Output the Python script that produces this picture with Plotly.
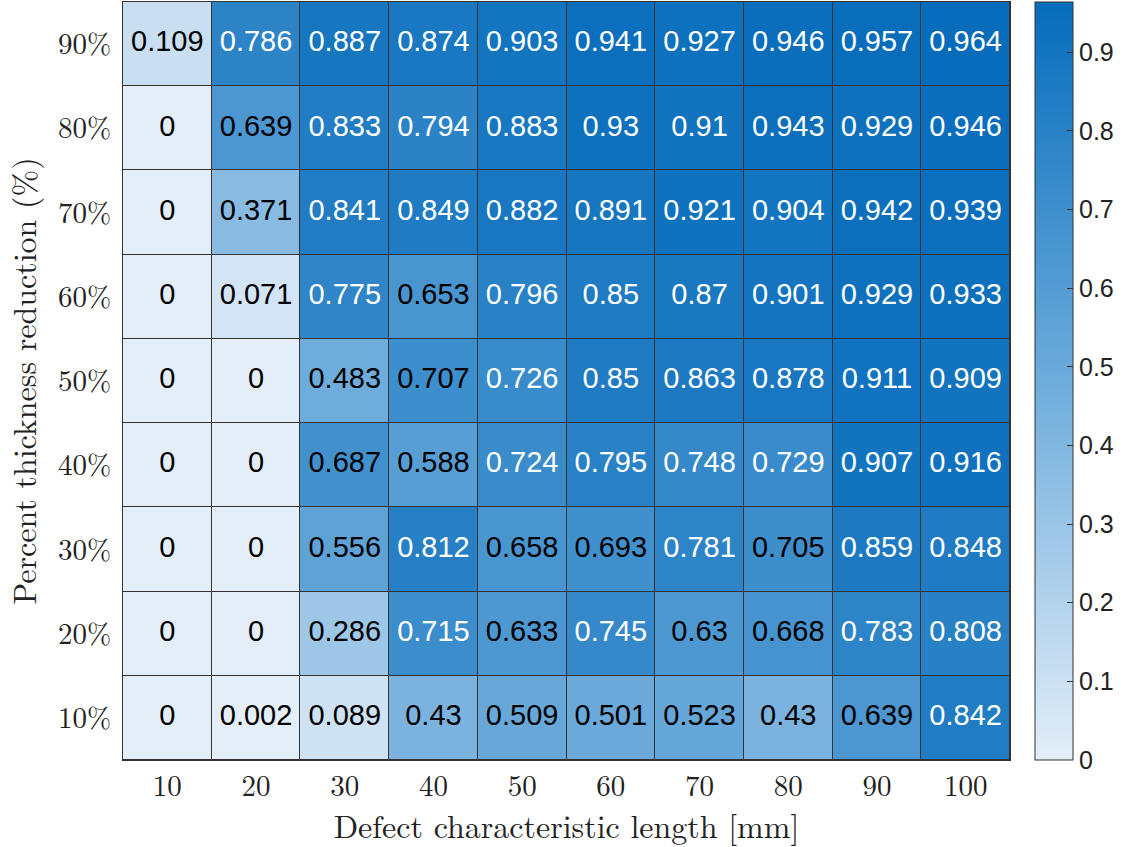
import plotly.graph_objects as go

lengths = ["10", "20", "30", "40", "50", "60", "70", "80", "90", "100"]
reductions = ["10%", "20%", "30%", "40%", "50%", "60%", "70%", "80%", "90%"]

# rows listed bottom (10%) to top (90%)
r10 = [0, 0.002, 0.089, 0.43, 0.509, 0.501, 0.523, 0.43, 0.639, 0.842]
r20 = [0, 0, 0.286, 0.715, 0.633, 0.745, 0.63, 0.668, 0.783, 0.808]
r30 = [0, 0, 0.556, 0.812, 0.658, 0.693, 0.781, 0.705, 0.859, 0.848]
r40 = [0, 0, 0.687, 0.588, 0.724, 0.795, 0.748, 0.729, 0.907, 0.916]
r50 = [0, 0, 0.483, 0.707, 0.726, 0.85, 0.863, 0.878, 0.911, 0.909]
r60 = [0, 0.071, 0.775, 0.653, 0.796, 0.85, 0.87, 0.901, 0.929, 0.933]
r70 = [0, 0.371, 0.841, 0.849, 0.882, 0.891, 0.921, 0.904, 0.942, 0.939]
r80 = [0, 0.639, 0.833, 0.794, 0.883, 0.93, 0.91, 0.943, 0.929, 0.946]
r90 = [0.109, 0.786, 0.887, 0.874, 0.903, 0.941, 0.927, 0.946, 0.957, 0.964]

z = [r10, r20, r30, r40, r50, r60, r70, r80, r90]

cbar_ticks = [0, 0.1, 0.2, 0.3, 0.4, 0.5, 0.6, 0.7, 0.8, 0.9]

zmin = 0
zmax = max(max(r) for r in z)

colorscale = [
    [0.0, "rgb(228,238,248)"],
    [0.5, "rgb(110,172,219)"],
    [1.0, "rgb(6,108,187)"],
]

fig = go.Figure()
fig.add_trace(go.Heatmap(
    x=lengths, y=reductions, z=z,
    zmin=zmin, zmax=zmax,
    colorscale=colorscale,
    xgap=1, ygap=1,
    hoverinfo="x+y+z",
    colorbar=dict(
        x=1.028, xanchor="left", xpad=0,
        y=0.5, yanchor="middle", len=1.0, lenmode="fraction",
        thickness=38, thicknessmode="pixels",
        outlinecolor="#333333", outlinewidth=1,
        tickvals=cbar_ticks,
        ticktext=[f"{t:g}" for t in cbar_ticks],
        tickprefix=" ",
        ticks="inside", ticklen=6, tickcolor="#333333",
        tickfont=dict(family="Liberation Sans, Arial", size=25, color="#222222"),
        ypad=0,
    ),
))

# cell labels
tx, ty, tt, tc = [], [], [], []
for yi, row in zip(reductions, z):
    for xi, v in zip(lengths, row):
        tx.append(xi)
        ty.append(yi)
        tt.append(f"{v:g}")
        tc.append("white" if v > 0.71 else "black")

fig.add_trace(go.Scatter(
    x=tx, y=ty, text=tt, mode="text",
    textfont=dict(family="Liberation Sans, Arial", size=29, color=tc),
    hoverinfo="skip", showlegend=False,
))

serif = "Latin Modern Roman, CMU Serif, DejaVu Serif, serif"

fig.update_layout(
    width=1136, height=847,
    margin=dict(l=123, r=126, t=2, b=87),
    paper_bgcolor="white",
    plot_bgcolor="#333333",
    showlegend=False,
    xaxis=dict(
        type="category", showgrid=False, zeroline=False,
        ticks="", tickfont=dict(family=serif, size=29, color="#222222"),
        ticklabelstandoff=0,
        title=dict(text="Defect characteristic length [mm]",
                   font=dict(family=serif, size=32, color="#222222"), standoff=10),
        showline=True, linecolor="#333333", linewidth=1, mirror=True,
    ),
    yaxis=dict(
        type="category", showgrid=False, zeroline=False,
        ticks="", tickfont=dict(family=serif, size=29, color="#222222"),
        ticklabelstandoff=5,
        title=dict(text="Percent thickness reduction (%)",
                   font=dict(family=serif, size=32, color="#222222"), standoff=17),
        showline=True, linecolor="#333333", linewidth=1, mirror=True,
    ),
)

fig.write_html("out.html", config={"displayModeBar": False},
               post_script="document.body.style.margin='0px';")
